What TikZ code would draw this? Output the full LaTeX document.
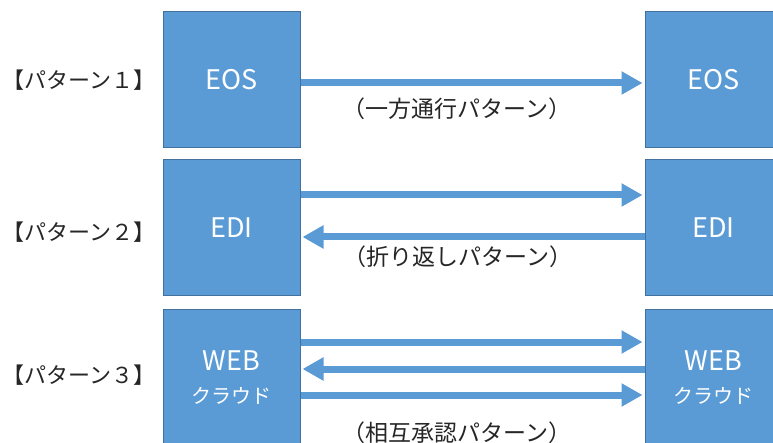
\documentclass[tikz,border=0pt]{standalone}
\usepackage{fontspec}
\setmainfont{Noto Sans CJK JP}
\usetikzlibrary{arrows.meta}
\definecolor{boxblue}{HTML}{5B9BD5}
\definecolor{boxedge}{HTML}{41719C}
\definecolor{txt}{HTML}{262626}
\tikzset{
  sysbox/.style={draw=boxedge, line width=1pt, fill=boxblue, minimum width=137pt, minimum height=136pt, inner sep=0pt, text=white, font=\fontsize{27}{30}\selectfont, align=center},
  flow/.style={draw=boxblue, line width=7pt, -{Triangle[length=21pt,width=22pt]}},
  patlabel/.style={text=txt, font=\fontsize{22}{25}\selectfont, inner sep=0pt},
  note/.style={text=txt, font=\fontsize{23}{26}\selectfont, inner sep=0pt}
}
\newcommand{\kanafont}{\fontsize{20}{23}\selectfont}
\begin{document}
\begin{tikzpicture}[x=1pt,y=-1pt]
\useasboundingbox (0,0) rectangle (773,443);
\fill[white] (0,0) rectangle (773,443);
% boxes
\node[sysbox] (L1) at (231.5,80) {EOS};
\node[sysbox] (R1) at (713.5,80) {EOS};
\node[sysbox] (L2) at (231.5,228) {EDI};
\node[sysbox] (R2) at (713.5,228) {EDI};
\node[sysbox] (L3) at (231.5,378) {WEB\\[3pt]{\kanafont クラウド}};
\node[sysbox] (R3) at (713.5,378) {WEB\\[3pt]{\kanafont クラウド}};
% left labels
\node[patlabel, anchor=west] (P1) at (2,80) {【パターン１】};
\node[patlabel, anchor=west] (P2) at (2,232) {【パターン２】};
\node[patlabel, anchor=west] (P3) at (2,375) {【パターン３】};
% arrows
\draw[flow] ([yshift=-3pt]L1.east) -- ([xshift=-2pt,yshift=-3pt]R1.west);
\draw[flow] ([yshift=33pt]L2.east) -- ([xshift=-2pt,yshift=33pt]R2.west);
\draw[flow] ([yshift=-9pt]R2.west) -- ([xshift=2pt,yshift=-9pt]L2.east);
\draw[flow] ([yshift=36pt]L3.east) -- ([xshift=-2pt,yshift=36pt]R3.west);
\draw[flow] ([yshift=9pt]R3.west) -- ([xshift=2pt,yshift=9pt]L3.east);
\draw[flow] ([yshift=-17pt]L3.east) -- ([xshift=-2pt,yshift=-17pt]R3.west);
% notes
\node[note] (N1) at (457,109) {（一方通行パターン）};
\node[note] (N2) at (458,257) {（折り返しパターン）};
\node[note] (N3) at (457,433) {（相互承認パターン）};
\end{tikzpicture}
\end{document}
